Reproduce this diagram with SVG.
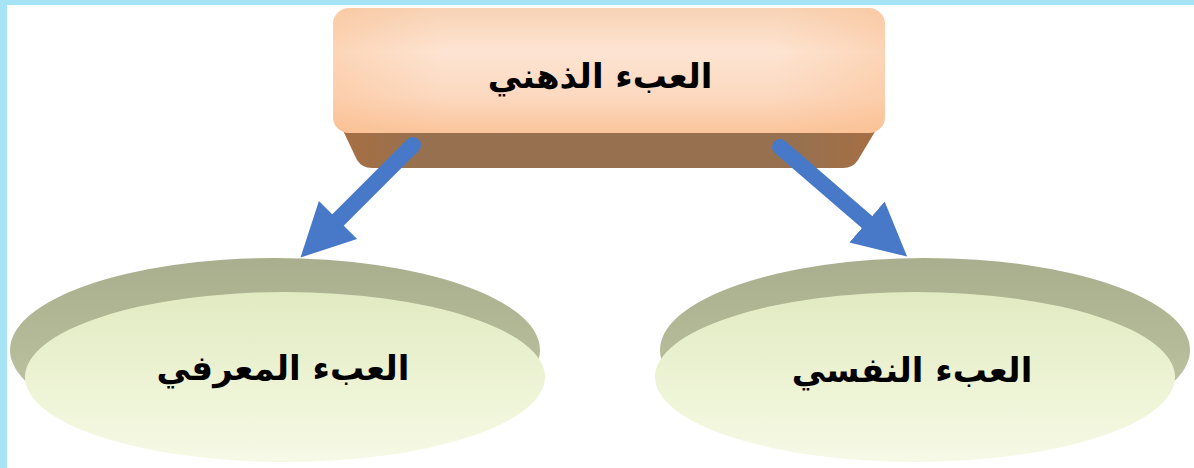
<svg xmlns="http://www.w3.org/2000/svg" width="1194" height="468" viewBox="0 0 1194 468">
  <style>
    .lbl { font-family: "DejaVu Sans", "Noto Sans", sans-serif; font-weight: bold; font-size: 34px; fill: #000; text-anchor: middle; }
    .conn { stroke: #4879C8; stroke-width: 16; stroke-linecap: round; fill: none; }
  </style>
  <defs>
    <linearGradient id="face" x1="0" y1="0" x2="0" y2="1">
      <stop offset="0" stop-color="#F8D3B5"/>
      <stop offset="0.35" stop-color="#FDE4D2"/>
      <stop offset="0.7" stop-color="#FCD9C0"/>
      <stop offset="1" stop-color="#FAC59C"/>
    </linearGradient>
    <linearGradient id="faceSide" x1="0" y1="0" x2="1" y2="0">
      <stop offset="0" stop-color="#FBB985" stop-opacity="0.35"/>
      <stop offset="0.2" stop-color="#FBB985" stop-opacity="0"/>
      <stop offset="0.8" stop-color="#FBB985" stop-opacity="0"/>
      <stop offset="1" stop-color="#FBB985" stop-opacity="0.35"/>
    </linearGradient>
    <linearGradient id="band" x1="0" y1="0" x2="1" y2="0">
      <stop offset="0" stop-color="#A86E42"/>
      <stop offset="0.15" stop-color="#97714F"/>
      <stop offset="0.85" stop-color="#97714F"/>
      <stop offset="1" stop-color="#A86E42"/>
    </linearGradient>
    <linearGradient id="rim" x1="0" y1="0" x2="0" y2="1">
      <stop offset="0" stop-color="#A9AE8E"/>
      <stop offset="0.5" stop-color="#B5BA98"/>
      <stop offset="1" stop-color="#C8CDAE"/>
    </linearGradient>
    <linearGradient id="oval" x1="0" y1="0" x2="0" y2="1">
      <stop offset="0" stop-color="#E2EAC2"/>
      <stop offset="0.6" stop-color="#EEF4D6"/>
      <stop offset="1" stop-color="#F6F9E6"/>
    </linearGradient>
    <marker id="head" markerUnits="userSpaceOnUse" markerWidth="60" markerHeight="60" viewBox="0 -30 60 60" refX="0" refY="0" orient="auto">
      <path d="M0,-27 L53,0 L0,27 Z" fill="#4879C8"/>
    </marker>
  </defs>

  <rect x="0" y="0" width="1194" height="468" fill="#FFFFFF"/>
  <rect x="0" y="0" width="1194" height="5" fill="#A6E3F5"/>
  <rect x="0" y="0" width="7" height="468" fill="#A6E3F5"/>

  <g id="node-left">
    <ellipse cx="275" cy="350" rx="265" ry="92" fill="url(#rim)"/>
    <ellipse cx="285" cy="377" rx="260" ry="85" fill="url(#oval)"/>
    <text class="lbl" x="283" y="380">العبء المعرفي</text>
  </g>

  <g id="node-right">
    <ellipse cx="925" cy="350" rx="265" ry="92" fill="url(#rim)"/>
    <ellipse cx="915" cy="377" rx="260" ry="85" fill="url(#oval)"/>
    <text class="lbl" x="912" y="382">العبء النفسي</text>
  </g>

  <g id="node-top">
    <path d="M338,120 L882,120 L858,160 Q853,168 843,168 L372,168 Q362,168 357,160 Z" fill="url(#band)"/>
    <rect x="333" y="8" width="552" height="125" rx="16" fill="url(#face)"/>
    <rect x="333" y="8" width="552" height="125" rx="16" fill="url(#faceSide)"/>
    <text class="lbl" x="600" y="88">العبء الذهني</text>
  </g>

  <g id="connectors">
    <line class="conn" x1="413" y1="145" x2="338" y2="220" marker-end="url(#head)"/>
    <line class="conn" x1="780" y1="147" x2="867" y2="222" marker-end="url(#head)"/>
  </g>
</svg>
